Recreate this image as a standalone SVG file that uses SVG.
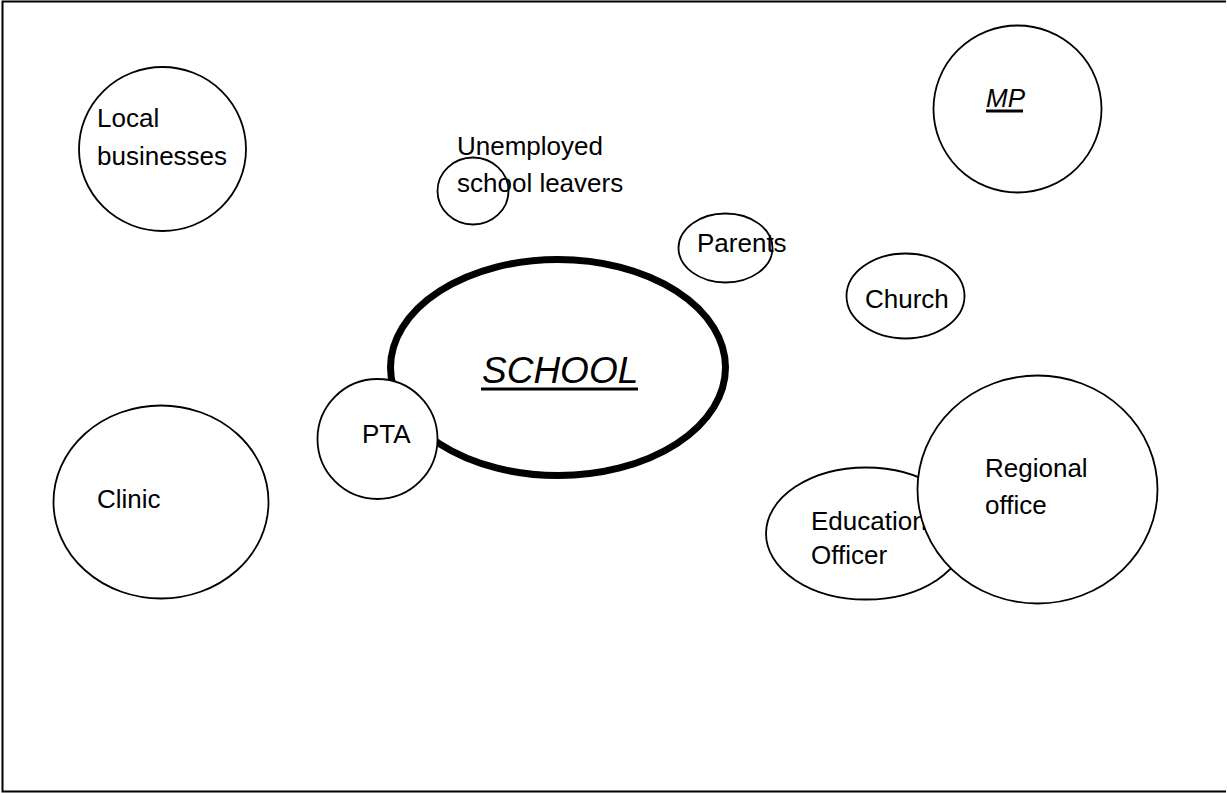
<svg xmlns="http://www.w3.org/2000/svg" width="1227" height="793" viewBox="0 0 1227 793">
  <style>
    .frame { fill: none; stroke: #000; stroke-width: 2; }
    .ring { fill: none; stroke: #000; stroke-width: 1.8; }
    .ring-fill { fill: #fff; stroke: #000; stroke-width: 1.8; }
    .hub { fill: #fff; stroke: #000; stroke-width: 7; }
    .lbl { font-family: "Liberation Sans", "DejaVu Sans", sans-serif; font-size: 26px; fill: #000; }
    .title { font-style: italic; }
    .uline { stroke: #000; stroke-width: 3; }
  </style>

  <rect width="1227" height="793" fill="#fff"/>
  <path class="frame" d="M1226,1.5 H2.5 V791.5 H1226"/>

  <!-- no links drawn between stakeholders -->
  <g id="connectors"/>

  <g id="local-businesses">
    <ellipse class="ring" cx="162.5" cy="149" rx="83.5" ry="82"/>
    <text class="lbl" x="97" y="127">Local</text>
    <text class="lbl" x="97" y="165">businesses</text>
  </g>

  <g id="unemployed-school-leavers">
    <ellipse class="ring" cx="473" cy="191" rx="35.5" ry="33.5"/>
    <text class="lbl" x="457" y="155">Unemployed</text>
    <text class="lbl" x="457" y="192">school leavers</text>
  </g>

  <g id="parents">
    <ellipse class="ring" cx="725.5" cy="248" rx="47" ry="34.5"/>
    <text class="lbl" x="697" y="252">Parents</text>
  </g>

  <g id="mp">
    <ellipse class="ring" cx="1017.5" cy="109" rx="84" ry="83.5"/>
    <text class="lbl title" x="986" y="107">MP</text>
    <line class="uline" x1="986" y1="111" x2="1023" y2="111"/>
  </g>

  <g id="church">
    <ellipse class="ring" cx="905.5" cy="296" rx="59" ry="42.5"/>
    <text class="lbl" x="865" y="308">Church</text>
  </g>

  <g id="school">
    <ellipse class="hub" cx="558" cy="367.5" rx="167.5" ry="108"/>
    <text class="lbl title" x="482" y="383" style="font-size:37px">SCHOOL</text>
    <line class="uline" x1="481" y1="389" x2="638" y2="389"/>
  </g>

  <g id="pta">
    <ellipse class="ring-fill" cx="377.5" cy="439" rx="60" ry="60"/>
    <text class="lbl" x="362" y="443">PTA</text>
  </g>

  <g id="clinic">
    <ellipse class="ring" cx="161" cy="502" rx="107.5" ry="96.5"/>
    <text class="lbl" x="97" y="508">Clinic</text>
  </g>

  <g id="education-officer">
    <ellipse class="ring-fill" cx="866" cy="533.5" rx="100" ry="66"/>
    <text class="lbl" x="811" y="530">Education</text>
    <text class="lbl" x="811" y="564">Officer</text>
  </g>

  <g id="regional-office">
    <ellipse class="ring-fill" cx="1037.5" cy="489.5" rx="120" ry="114"/>
    <text class="lbl" x="985" y="477">Regional</text>
    <text class="lbl" x="985" y="514">office</text>
  </g>
</svg>
